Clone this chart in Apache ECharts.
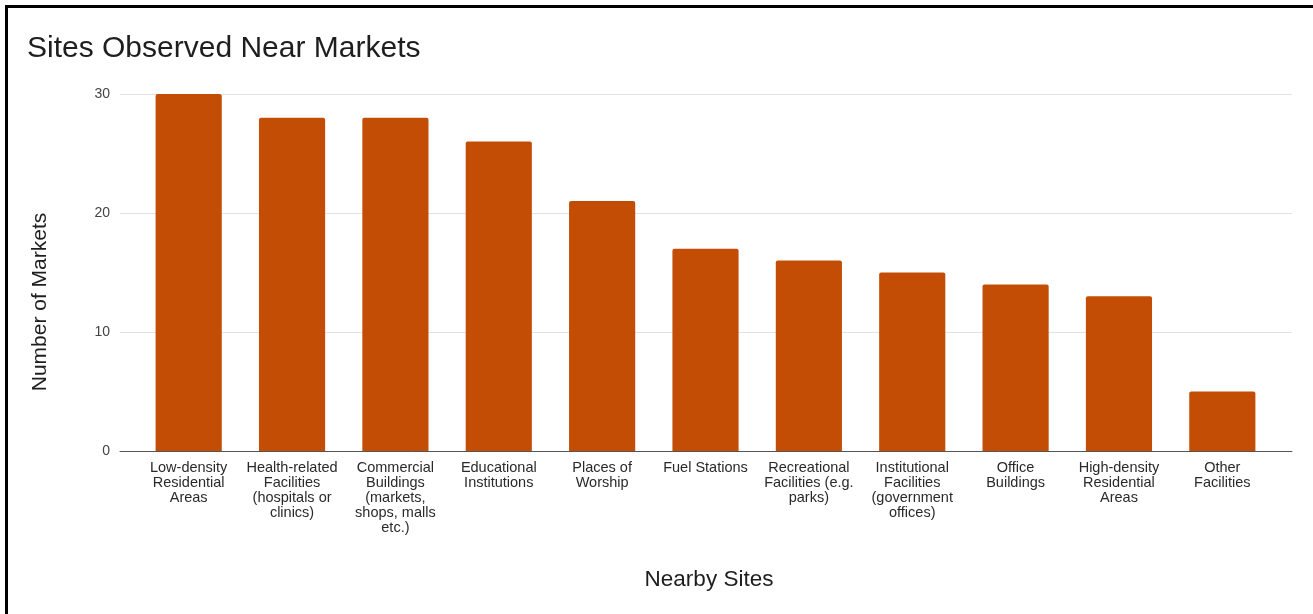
<!DOCTYPE html>
<html>
<head>
<meta charset="utf-8">
<script src="https://cdn.jsdelivr.net/npm/echarts@6/dist/echarts.min.js"></script>
<style>
  html, body { margin: 0; padding: 0; background: #fff; }
  #chart { width: 1313px; height: 614px; }
  #frame {
    position: absolute; left: 5px; top: 5px; right: 0; bottom: 0;
    border-left: 3px solid #000; border-top: 3px solid #000;
    pointer-events: none;
  }
</style>
</head>
<body>
<div id="chart"></div>
<div id="frame"></div>
<script>
// Nearby site categories (line breaks as shown under each bar)
const categories = [
  'Low-density\nResidential\nAreas',
  'Health-related\nFacilities\n(hospitals or\nclinics)',
  'Commercial\nBuildings\n(markets,\nshops, malls\netc.)',
  'Educational\nInstitutions',
  'Places of\nWorship',
  'Fuel Stations',
  'Recreational\nFacilities (e.g.\nparks)',
  'Institutional\nFacilities\n(government\noffices)',
  'Office\nBuildings',
  'High-density\nResidential\nAreas',
  'Other\nFacilities'
];
// Number of markets with each site nearby
const marketCounts = [30, 28, 28, 26, 21, 17, 16, 15, 14, 13, 5];
const yTicks = [0, 10, 20, 30];

const FONT = '"Liberation Sans", Arial, Helvetica, sans-serif';
const chart = echarts.init(document.getElementById('chart'), null, { renderer: 'canvas' });

chart.setOption({
  animation: false,
  backgroundColor: '#fff',
  textStyle: { fontFamily: FONT },
  title: {
    text: 'Sites Observed Near Markets',
    left: 22, top: 29, padding: 5,
    textStyle: { fontFamily: FONT, fontSize: 30, fontWeight: 'normal', color: '#1e1e1e' }
  },
  grid: [
    // wide grid carrying the gridlines and baseline
    { left: 120, right: 21, top: 94, bottom: 163 },
    // inner grid carrying the bars
    { left: 137, right: 39, top: 94, bottom: 163 }
  ],
  xAxis: [
    {
      gridIndex: 0, type: 'value', min: 0, max: 1,
      axisLine: { show: true, onZero: true, lineStyle: { color: '#555', width: 1 } },
      axisTick: { show: false }, axisLabel: { show: false }, splitLine: { show: false }
    },
    {
      gridIndex: 1, type: 'category', data: categories,
      axisLine: { show: false }, axisTick: { show: false },
      axisLabel: {
        interval: 0, margin: 9, fontSize: 14.5, lineHeight: 15,
        color: '#2a2a2a', fontFamily: FONT, align: 'center'
      }
    }
  ],
  yAxis: [
    {
      gridIndex: 0, type: 'value', min: yTicks[0], max: yTicks[yTicks.length - 1], interval: 10,
      axisLine: { show: false }, axisTick: { show: false },
      axisLabel: { margin: 10, fontSize: 14, color: '#444', fontFamily: FONT },
      splitLine: { lineStyle: { color: '#e2e2e2', width: 1 } }
    },
    {
      gridIndex: 1, type: 'value', min: yTicks[0], max: yTicks[yTicks.length - 1], interval: 10,
      show: false, splitLine: { show: false }
    }
  ],
  series: [{
    type: 'bar',
    xAxisIndex: 1, yAxisIndex: 1,
    data: marketCounts,
    barCategoryGap: '36%',
    itemStyle: { color: '#c34d05', borderRadius: [2, 2, 0, 0] }
  }],
  graphic: [
    {
      type: 'text', x: 40, y: 302, rotation: Math.PI / 2,
      style: {
        text: 'Number of Markets', fontSize: 21, fontFamily: FONT, fill: '#1e1e1e',
        align: 'center', verticalAlign: 'middle'
      }
    },
    {
      type: 'text', x: 709, y: 580,
      style: {
        text: 'Nearby Sites', fontSize: 22.5, fontFamily: FONT, fill: '#1e1e1e',
        align: 'center', verticalAlign: 'middle'
      }
    }
  ]
});
</script>
</body>
</html>
